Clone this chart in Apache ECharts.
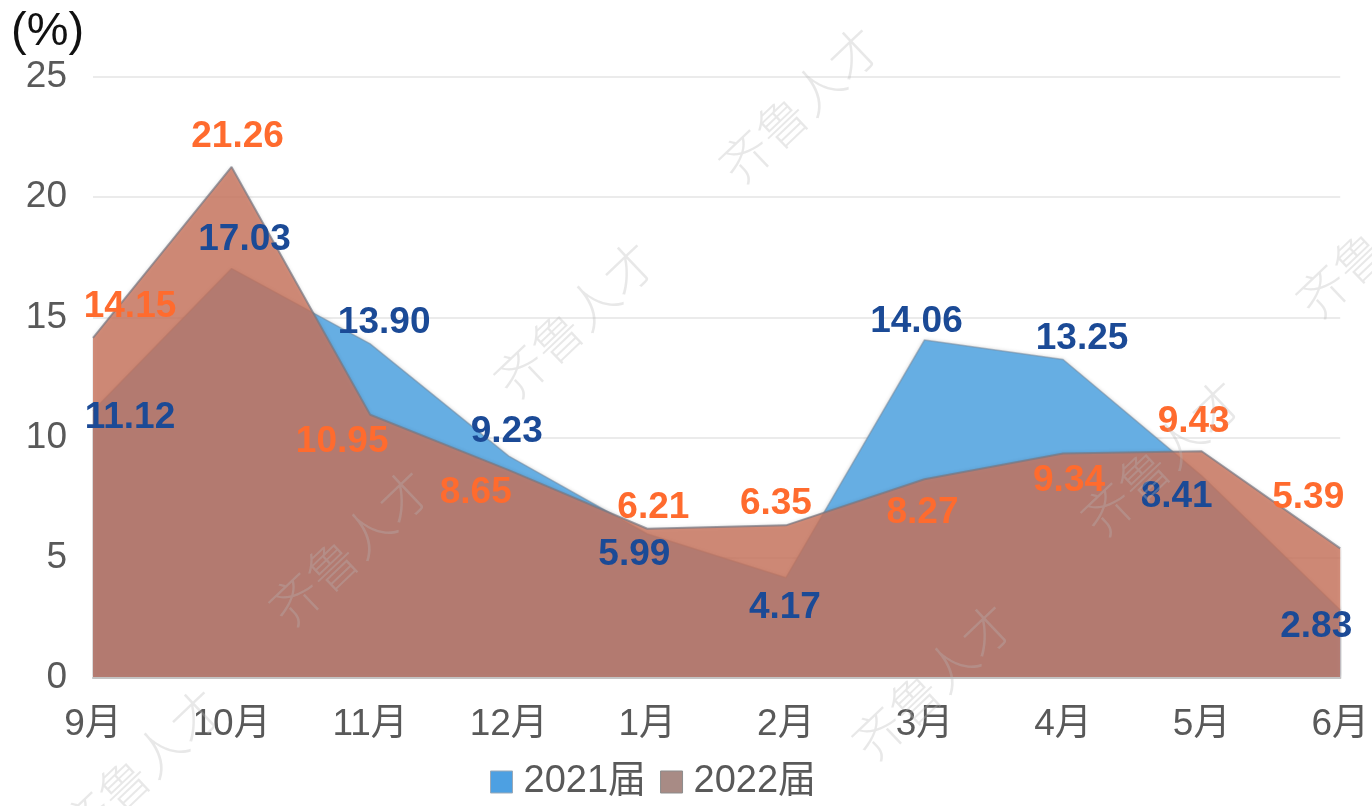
<!DOCTYPE html>
<html>
<head>
<meta charset="utf-8">
<script src="https://cdn.jsdelivr.net/npm/echarts@6/dist/echarts.min.js"></script>
<style>
html,body{margin:0;padding:0;background:#fff;}
#chart{width:1372px;height:806px;}
</style>
</head>
<body>
<div id="chart"></div>
<script>
const categories = ['9月','10月','11月','12月','1月','2月','3月','4月','5月','6月'];
const series2021 = [11.12, 17.03, 13.90, 9.23, 5.99, 4.17, 14.06, 13.25, 8.41, 2.83];
const series2022 = [14.15, 21.26, 10.95, 8.65, 6.21, 6.35, 8.27, 9.34, 9.43, 5.39];
const yTicks = [0, 5, 10, 15, 20, 25];

// label offsets (pixels, relative to each point)
const offsets2021 = [[37,7],[13,-29],[14,-21],[-2,-24],[-13,21],[-1,30],[-8,-18],[19,-21],[-25,21],[-24,17]];
const offsets2022 = [[37,-31],[6,-30],[-28,27],[-33,23],[6,-21],[-10,-22],[-2,34],[6,27],[-8,-30],[-32,-51]];

const FONT = '"Liberation Sans", Arial, "Noto Sans CJK SC", sans-serif';

function labelData(values, offsets, color) {
  return values.map((v, i) => ({
    value: v,
    label: {
      show: true,
      position: 'inside',
      offset: offsets[i],
      color: color,
      fontSize: 37,
      fontWeight: 'bold',
      fontFamily: FONT,
      formatter: p => Number(p.value).toFixed(2)
    }
  }));
}

const watermarkCenters = [[800,105],[575,320],[350,548],[142,767],[1162,458],[933,682],[1377,240]];
const graphics = watermarkCenters.map(c => ({
  type: 'text',
  x: c[0], y: c[1],
  rotation: 0.76,
  z: 100,
  silent: true,
  style: {
    text: '齐鲁人才',
    fontSize: 50,
    fontWeight: 300,
    fontFamily: '"Noto Sans CJK SC", sans-serif',
    fill: 'rgba(185,185,185,0.32)',
    align: 'center',
    verticalAlign: 'middle'
  }
}));
graphics.push({
  type: 'text', left: 11, top: 9, z: 50,
  style: { text: '(%)', fontSize: 47, fontFamily: FONT, fill: '#111' }
});

const chart = echarts.init(document.getElementById('chart'));
chart.setOption({
  animation: false,
  backgroundColor: '#fff',
  grid: { left: 93, right: 28, top: 77, bottom: 128 },
  legend: {
    bottom: 0,
    left: 485,
    itemWidth: 22,
    itemHeight: 22,
    itemGap: 14,
    textStyle: { fontSize: 38, color: '#595959', fontFamily: FONT, padding: [0, 0, 0, 6] },
    data: [
      { name: '2021届', icon: 'rect', itemStyle: { color: '#4DA0E2', borderColor: '#9aa9b8', borderWidth: 1 } },
      { name: '2022届', icon: 'rect', itemStyle: { color: '#A88B85', borderColor: '#8d8d8d', borderWidth: 1 } }
    ]
  },
  xAxis: {
    type: 'category',
    data: categories,
    boundaryGap: false,
    axisLine: { lineStyle: { color: '#C4C4C4', width: 2 } },
    axisTick: { show: false },
    axisLabel: { fontSize: 37, color: '#595959', fontFamily: FONT, margin: 28 },
    z: 20
  },
  yAxis: {
    type: 'value',
    min: yTicks[0],
    max: yTicks[yTicks.length - 1],
    interval: 5,
    axisLine: { show: false },
    axisTick: { show: false },
    axisLabel: { fontSize: 37, color: '#595959', fontFamily: FONT, margin: 26 },
    splitLine: { lineStyle: { color: '#EBEBEB', width: 2 } }
  },
  series: [
    {
      name: '2021届',
      type: 'line',
      data: series2021,
      symbol: 'none',
      z: 2,
      lineStyle: { color: 'rgba(120,140,160,0.55)', width: 1.5 },
      itemStyle: { color: '#4DA0E2' },
      areaStyle: { color: 'rgb(102,174,227)', opacity: 1, shadowColor: 'rgba(0,0,0,0.2)', shadowBlur: 4 }
    },
    {
      name: '2022届',
      type: 'line',
      data: series2022,
      symbol: 'none',
      z: 3,
      lineStyle: { color: 'rgba(120,120,130,0.7)', width: 2 },
      itemStyle: { color: '#A88B85' },
      areaStyle: { color: 'rgb(202,116,92)', opacity: 0.8, shadowColor: 'rgba(0,0,0,0.2)', shadowBlur: 4 }
    },
    {
      name: 'lbl2021',
      type: 'line',
      data: labelData(series2021, offsets2021, '#1B4A96'),
      symbol: 'circle',
      symbolSize: 1,
      itemStyle: { color: 'rgba(0,0,0,0)' },
      lineStyle: { width: 0, color: 'rgba(0,0,0,0)' },
      z: 10,
      silent: true
    },
    {
      name: 'lbl2022',
      type: 'line',
      data: labelData(series2022, offsets2022, '#FF6B2E'),
      symbol: 'circle',
      symbolSize: 1,
      itemStyle: { color: 'rgba(0,0,0,0)' },
      lineStyle: { width: 0, color: 'rgba(0,0,0,0)' },
      z: 10,
      silent: true
    }
  ],
  graphic: graphics
});
</script>
</body>
</html>
